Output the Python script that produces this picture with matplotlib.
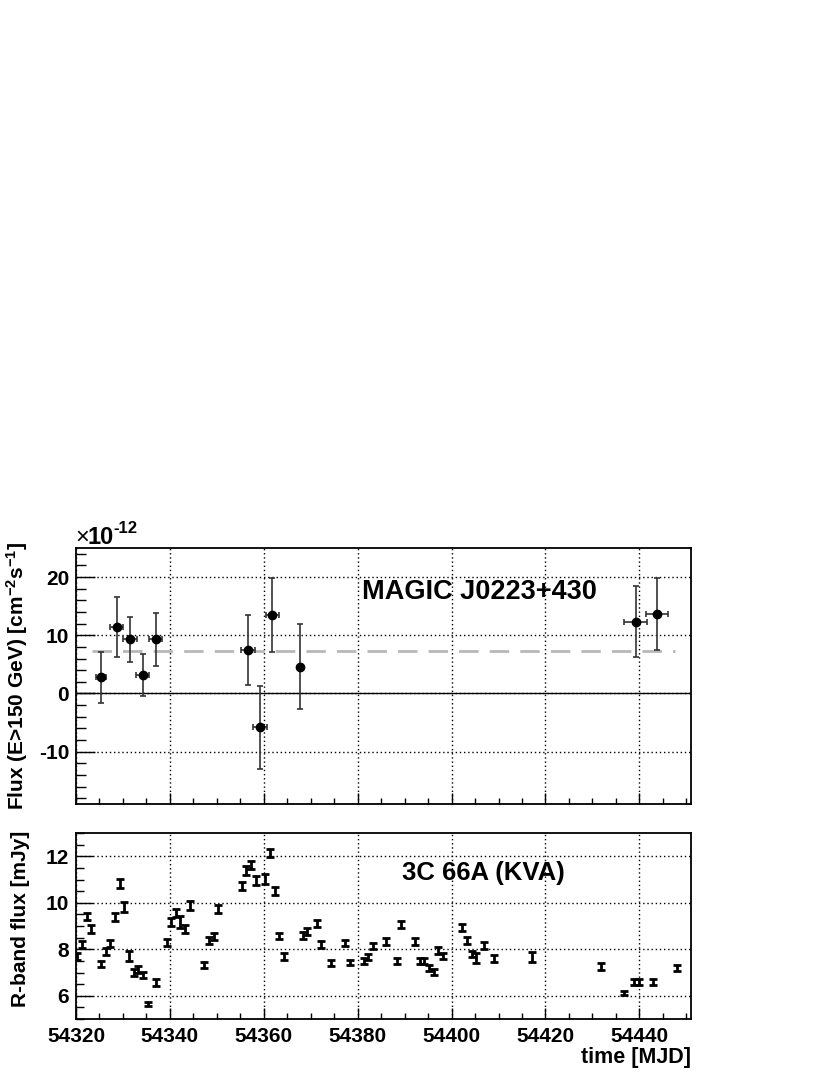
import numpy as np
import matplotlib
matplotlib.use("Agg")
import matplotlib.pyplot as plt
from matplotlib.ticker import MultipleLocator, FormatStrFormatter

plt.rcParams['font.family'] = ['Liberation Sans', 'DejaVu Sans']
plt.rcParams['font.weight'] = 'bold'
plt.rcParams['axes.unicode_minus'] = False
plt.rcParams['mathtext.fontset'] = 'custom'
plt.rcParams['mathtext.rm'] = 'Liberation Sans:bold'
plt.rcParams['mathtext.default'] = 'rm'

# MAGIC VHE light curve (flux in units of 1e-12 cm^-2 s^-1)
magic_mjd = [54325.3, 54328.65, 54331.5, 54334.2, 54337.0, 54356.6,
             54359.2, 54361.8, 54367.7, 54439.2, 54443.7]
magic_flux = [2.8, 11.4, 9.3, 3.2, 9.3, 7.4, -5.8, 13.55, 4.6, 12.3, 13.65]
magic_err = [4.4, 5.1, 3.9, 3.6, 4.5, 6.0, 7.1, 6.35, 7.35, 6.1, 6.2]
magic_xerr = [1.0, 1.4, 1.4, 1.35, 1.35, 1.5, 1.4, 1.4, 0.0, 2.4, 2.3]
magic_mean = 7.25
mean_range = [54323.5, 54447.6]

# KVA R-band light curve (mJy)
kva_mjd = [54320.2, 54321.3, 54322.3, 54323.3, 54325.3, 54326.3, 54327.3,
           54328.3, 54329.3, 54330.3, 54331.3, 54332.3, 54333.3, 54334.25,
           54335.25, 54336.95, 54339.3, 54340.3, 54341.3, 54342.25, 54343.25,
           54344.3, 54347.3, 54348.3, 54349.3, 54350.3, 54355.3, 54356.3,
           54357.3, 54358.3, 54360.3, 54361.3, 54362.3, 54363.3, 54364.3,
           54368.3, 54369.3, 54371.3, 54372.2, 54374.3, 54377.2, 54378.3,
           54381.3, 54382.3, 54383.3, 54386.0, 54388.3, 54389.3, 54392.3,
           54393.2, 54394.2, 54395.2, 54396.2, 54397.2, 54398.2, 54402.3,
           54403.3, 54404.3, 54405.3, 54407.0, 54409.0, 54417.1, 54431.9,
           54436.8, 54438.9, 54439.9, 54442.9, 54448.0]
kva_flux = [7.68, 8.21, 9.42, 8.88, 7.37, 7.90, 8.23, 9.38, 10.83, 9.82,
            7.71, 7.00, 7.12, 6.89, 5.65, 6.56, 8.28, 9.18, 9.55, 9.17,
            8.88, 9.88, 7.32, 8.36, 8.56, 9.72, 10.73, 11.39, 11.63, 10.96,
            11.02, 12.14, 10.50, 8.57, 7.68, 8.60, 8.78, 9.12, 8.21, 7.40,
            8.26, 7.43, 7.50, 7.67, 8.14, 8.33, 7.50, 9.07, 8.33, 7.50,
            7.50, 7.20, 7.03, 7.95, 7.71, 8.94, 8.37, 7.80, 7.61, 8.18,
            7.60, 7.68, 7.26, 6.12, 6.59, 6.59, 6.59, 7.19]
kva_err = [0.16, 0.15, 0.16, 0.16, 0.14, 0.16, 0.15, 0.16, 0.18, 0.22,
           0.22, 0.14, 0.14, 0.14, 0.10, 0.14, 0.16, 0.17, 0.18, 0.26,
           0.16, 0.18, 0.14, 0.15, 0.15, 0.17, 0.17, 0.20, 0.18, 0.18,
           0.22, 0.18, 0.17, 0.15, 0.15, 0.15, 0.15, 0.15, 0.14, 0.12,
           0.14, 0.12, 0.14, 0.14, 0.14, 0.14, 0.12, 0.15, 0.14, 0.14,
           0.14, 0.14, 0.14, 0.14, 0.14, 0.15, 0.14, 0.14, 0.22, 0.15,
           0.14, 0.22, 0.14, 0.10, 0.14, 0.14, 0.14, 0.14]

xmin, xmax = 54320, 54451
grid_kw = dict(color='black', linestyle=(0, (1, 2)), linewidth=1.0)

fig = plt.figure(figsize=(8.3, 10.75), dpi=100)
ax1 = fig.add_axes([76 / 830, 1 - 804 / 1075, 615 / 830, 256 / 1075])
ax2 = fig.add_axes([76 / 830, 1 - 1019 / 1075, 615 / 830, 186 / 1075])

# --- top panel: MAGIC ---
ax1.axhline(0, color='black', linewidth=1.0, zorder=2)
ax1.plot(mean_range, [magic_mean, magic_mean], color='0.72',
         linestyle=(0, (7, 4)), linewidth=2.0, zorder=2)
ax1.errorbar(magic_mjd, magic_flux, yerr=magic_err, xerr=magic_xerr,
             fmt='o', color='black', ecolor='0.2', markersize=6,
             elinewidth=1.2, capsize=2.5, capthick=1.2, zorder=3)
ax1.text(54381, 17.5, 'MAGIC J0223+430', fontsize=19.5, fontweight='bold',
         va='center', ha='left')
ax1.set_xlim(xmin, xmax)
ax1.set_ylim(-19, 25)
ax1.yaxis.set_major_locator(MultipleLocator(10))
ax1.yaxis.set_minor_locator(MultipleLocator(2))
ax1.set_ylabel(r'Flux (E>150 GeV) [cm$^{-2}$s$^{-1}$]', fontsize=15,
               fontweight='bold')
ax1.yaxis.set_label_coords(-0.075, 0.5)
ax1.tick_params(axis='x', labelbottom=False)
# exponent label above the axis
fig.text(75 / 830, 1 - 544 / 1075, '\u00d7', fontsize=17, fontweight='normal',
         ha='left', va='baseline')
fig.text(87 / 830, 1 - 544 / 1075, '10', fontsize=17,
         ha='left', va='baseline')
fig.text(113 / 830, 1 - 533 / 1075, '-12', fontsize=12,
         ha='left', va='baseline')

# --- bottom panel: KVA ---
ax2.errorbar(kva_mjd, kva_flux, yerr=kva_err, fmt='none', ecolor='black',
             elinewidth=2.0, capsize=2.6, capthick=2.0, zorder=3)
ax2.text(54389.4, 11.26, '3C 66A (KVA)', fontsize=18.5, fontweight='bold',
         va='center', ha='left')
ax2.set_xlim(xmin, xmax)
ax2.set_ylim(5, 13)
ax2.yaxis.set_major_locator(MultipleLocator(2))
ax2.yaxis.set_minor_locator(MultipleLocator(0.5))
ax2.set_ylabel('R-band flux [mJy]', fontsize=15, fontweight='bold')
ax2.yaxis.set_label_coords(-0.075, 0.54)
fig.text(691 / 830, 1 - 1058 / 1075, 'time [MJD]', fontsize=15.5,
         fontweight='bold', ha='right', va='center')

for ax, ymaj, ymin_len in ((ax1, 13.5, 7), (ax2, 12, 6)):
    ax.xaxis.set_major_locator(MultipleLocator(20))
    ax.xaxis.set_minor_locator(MultipleLocator(5))
    ax.xaxis.set_major_formatter(FormatStrFormatter('%d'))
    ax.yaxis.set_major_formatter(FormatStrFormatter('%d'))
    ax.grid(True, which='major', **grid_kw)
    ax.set_axisbelow(True)
    ax.tick_params(axis='both', which='both', direction='in', top=False,
                   right=False, labelsize=15, width=1.0)
    ax.tick_params(axis='x', which='major', length=8, pad=6)
    ax.tick_params(axis='x', which='minor', length=4)
    ax.tick_params(axis='y', which='major', length=ymaj, pad=5)
    ax.tick_params(axis='y', which='minor', length=ymin_len)
    for lab in ax.get_xticklabels() + ax.get_yticklabels():
        lab.set_fontweight('bold')
    for sp in ax.spines.values():
        sp.set_linewidth(1.3)

fig.savefig('out.png', dpi=100)
